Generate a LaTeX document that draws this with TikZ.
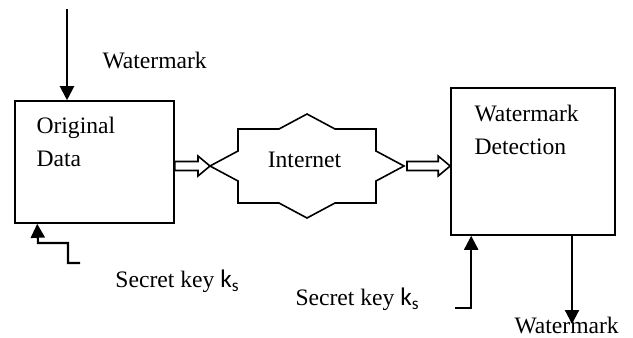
\documentclass[tikz,border=0pt]{standalone}
\usepackage{fontspec}
\setmainfont{Liberation Serif}
\newfontfamily\keyfont{Carlito}
\usetikzlibrary{arrows.meta,calc}
\tikzset{every picture/.style={line width=0.75pt}}
\tikzset{
  blockbox/.style={draw, line width=1.2pt, inner sep=0pt},
  arr/.style={line width=1.6pt, -{Triangle[length=10.5pt,width=10.5pt]}},
  lbl/.style={inner sep=0pt, font=\fontsize{17.7}{24.75}\selectfont, align=left},
  hollow/.style={line width=1.2pt, to path={($(\tikztostart)+(0,3.4pt)$) -- ($(\tikztotarget)+(-9pt,3.4pt)$) -- ($(\tikztotarget)+(-9pt,7.5pt)$) -- (\tikztotarget) -- ($(\tikztotarget)+(-9pt,-7.5pt)$) -- ($(\tikztotarget)+(-9pt,-3.4pt)$) -- ($(\tikztostart)+(0,-3.4pt)$) -- cycle}}
}
\newcommand\keyks{{\keyfont\fontsize{19}{19}\selectfont k\raisebox{-3pt}{\fontsize{13}{13}\selectfont s}}}

\begin{document}
\begin{tikzpicture}[x=0.75pt,y=0.75pt,yscale=-1,xscale=1]
\useasboundingbox (0,0) rectangle (633,337);

%Shape: Rectangle
\node [blockbox, minimum width=119.25pt, minimum height=91.5pt] (orig) at (94.5,162) {};
%Shape: Rectangle
\node [blockbox, minimum width=123pt, minimum height=110.25pt] (det) at (533,161.5) {};
%Shape: Polygon
\draw [line width=1.2pt] (210,166) coordinate (netW) -- (238,151) -- (238,129) -- (279,129) -- (307,114) -- (335,129) -- (376,129) -- (376,151) -- (404,166) coordinate (netE) -- (376,181) -- (376,203) -- (335,203) -- (307,218) -- (279,203) -- (238,203) -- (238,181) -- cycle ;

%Straight Lines
\coordinate (wmsrc) at (67,9);
\draw [arr] (wmsrc) -- (wmsrc |- orig.north) ;
%Straight Lines
\coordinate (keyL) at (80,263);
\draw [arr] (keyL) -- ++(-12,0) -- ++(0,-20) -- ++(-30,0) -- ($(orig.south west)+(23,0)$) ;
%Straight Lines
\coordinate (keyR) at (455,308);
\draw [arr] (keyR) -| ($(det.south west)+(21,0)$) ;
%Straight Lines
\coordinate (wmout) at (572,324);
\draw [arr] (wmout |- det.south) -- (wmout) ;
%Block Arrows
\draw [hollow] (orig.east |- netW) to (netW) ;
\draw [hollow] ($(netE)+(3,0)$) to (det.west |- netE) ;

% Text Node
\draw (102,68) node [anchor=base west][lbl] (wmtop) {Watermark};
% Text Node
\draw (36,166) node [anchor=base west][lbl] (origtxt) {Original\\Data};
% Text Node
\draw (304.5,167) node [anchor=base][lbl] (nettxt) {Internet};
% Text Node
\draw (474,154) node [anchor=base west][lbl] (dettxt) {Watermark\\Detection};
% Text Node
\draw (115,287) node [anchor=base west][lbl] (keytxtL) {Secret key \keyks};
% Text Node
\draw (295,305) node [anchor=base west][lbl] (keytxtR) {Secret key \keyks};
% Text Node
\draw (514,333) node [anchor=base west][lbl] (wmbot) {Watermark};

\end{tikzpicture}
\end{document}
